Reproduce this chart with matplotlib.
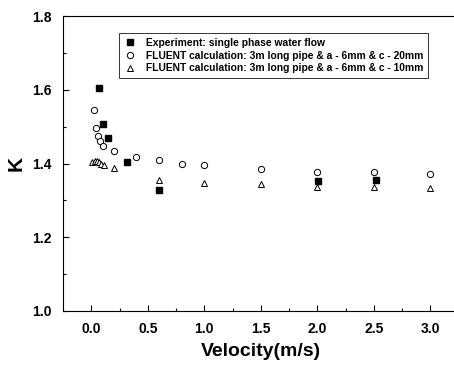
import matplotlib
matplotlib.use("Agg")
import matplotlib.pyplot as plt
from matplotlib.ticker import MultipleLocator

plt.rcParams['font.family'] = ['Liberation Sans', 'DejaVu Sans']
plt.rcParams['font.weight'] = 'bold'

exp_x = [0.065, 0.106, 0.15, 0.317, 0.60, 2.01, 2.52]
exp_y = [1.604, 1.507, 1.470, 1.403, 1.329, 1.353, 1.355]

c20_x = [0.02, 0.04, 0.06, 0.08, 0.10, 0.20, 0.40, 0.60, 0.80, 1.0, 1.5, 2.0, 2.5, 3.0]
c20_y = [1.545, 1.495, 1.475, 1.461, 1.447, 1.433, 1.418, 1.410, 1.400, 1.395, 1.385, 1.378, 1.376, 1.372]

c10_x = [0.01, 0.03, 0.05, 0.07, 0.09, 0.11, 0.20, 0.60, 1.0, 1.5, 2.0, 2.5, 3.0]
c10_y = [1.405, 1.406, 1.406, 1.404, 1.400, 1.396, 1.388, 1.355, 1.347, 1.344, 1.337, 1.337, 1.334]

labels = ["Experiment: single phase water flow",
          "FLUENT calculation: 3m long pipe & a - 6mm & c - 20mm",
          "FLUENT calculation: 3m long pipe & a - 6mm & c - 10mm"]

fig = plt.figure(figsize=(4.54, 3.68), dpi=100)
ax = fig.add_axes([63/454, 57/368, (454-63)/454 + 0.01, 295/368])

ax.plot(exp_x, exp_y, 's', color='black', ms=4, ls='none', label=labels[0])
ax.plot(c20_x, c20_y, 'o', mfc='white', mec='black', mew=0.7, ms=4.5, ls='none', label=labels[1])
ax.plot(c10_x, c10_y, '^', mfc='white', mec='black', mew=0.7, ms=5, ls='none', label=labels[2])

ax.set_xlim(-0.25, 3.25)
ax.set_ylim(1.0, 1.8)
ax.xaxis.set_major_locator(MultipleLocator(0.5))
ax.xaxis.set_minor_locator(MultipleLocator(0.25))
ax.yaxis.set_major_locator(MultipleLocator(0.2))
ax.yaxis.set_minor_locator(MultipleLocator(0.1))
ax.tick_params(which='both', direction='in', labelsize=10, width=0.8)
ax.tick_params(which='major', length=4)
ax.tick_params(which='minor', length=2)
ax.tick_params(axis='x', pad=8)
ax.tick_params(axis='y', pad=8)
ax.set_xticklabels([f"{v:.1f}" for v in ax.get_xticks()], fontweight='bold')
for lab in ax.get_yticklabels():
    lab.set_fontweight('bold')
ax.spines['right'].set_visible(False)

ax.set_xlabel("Velocity(m/s)", fontsize=14, fontweight='bold', labelpad=5)
ax.set_ylabel("K", fontsize=15, fontweight='bold', labelpad=5)

leg = ax.legend(loc='upper left', bbox_to_anchor=(0.1416, 0.942), fontsize=7.4, frameon=True,
                fancybox=False, edgecolor='black', handletextpad=1.0, borderpad=0.45,
                labelspacing=0.28, handlelength=1.2, borderaxespad=0)
leg.get_frame().set_linewidth(0.7)
for t in leg.get_texts():
    t.set_fontweight('bold')

fig.savefig("out.png", dpi=100)
